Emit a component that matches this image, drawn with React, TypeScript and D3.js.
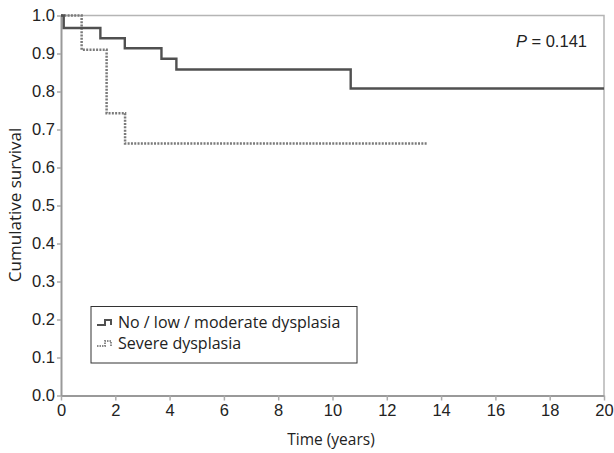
import { useRef, useEffect } from "react";
import * as d3 from "d3";

const W = 614;
const H = 453;
// plot area in pixels
const X0 = 61;
const X1 = 604;
const Y0 = 395.5;
const Y1 = 15.5;

// step curves: [time, survival] — value holds from time onward
const groupA: [number, number][] = [
  [0, 1.0],
  [0.1, 0.967],
  [1.45, 0.94],
  [2.35, 0.914],
  [3.7, 0.886],
  [4.25, 0.858],
  [10.67, 0.808],
  [20, 0.808],
];
const groupB: [number, number][] = [
  [0, 1.0],
  [0.76, 0.91],
  [1.68, 0.743],
  [2.36, 0.663],
  [13.47, 0.663],
];

const xTicks = [0, 2, 4, 6, 8, 10, 12, 14, 16, 18, 20];
const yTicks = [0, 0.1, 0.2, 0.3, 0.4, 0.5, 0.6, 0.7, 0.8, 0.9, 1.0];
const legendLabels = ["No / low / moderate dysplasia", "Severe dysplasia"];

const TICK_FONT = "'Liberation Sans', Arial, sans-serif";
const LABEL_FONT = "'Open Sans', 'Noto Sans', sans-serif";

export default function App() {
  const svgRef = useRef<SVGSVGElement>(null);

  useEffect(() => {
    if (!svgRef.current) return;
    const svg = d3.select(svgRef.current);
    svg.selectAll("*").remove();

    const x = d3.scaleLinear().domain([0, 20]).range([X0, X1]);
    const y = d3.scaleLinear().domain([0, 1]).range([Y0, Y1]);

    // frame top + right (light grey)
    svg
      .append("path")
      .attr("d", `M${X0},${Y1}H${X1}V${Y0}`)
      .attr("fill", "none")
      .attr("stroke", "#b5b5b5")
      .attr("stroke-width", 1.5);

    // x axis
    const xAxisG = svg
      .append("g")
      .attr("transform", `translate(0,${Y0})`)
      .call(d3.axisBottom(x).tickValues(xTicks).tickFormat(d3.format("d")).tickSizeInner(5).tickSizeOuter(0).tickPadding(4));
    xAxisG.select(".domain").attr("stroke", "#999").attr("stroke-width", 2);
    xAxisG.selectAll(".tick line").attr("stroke", "#aaa").attr("stroke-width", 1.5);
    xAxisG
      .selectAll("text")
      .attr("fill", "#222")
      .attr("font-size", "16.5px")
      .attr("font-family", TICK_FONT);

    // y axis
    const yAxisG = svg
      .append("g")
      .attr("transform", `translate(${X0},0)`)
      .call(d3.axisLeft(y).tickValues(yTicks).tickFormat(d3.format(".1f")).tickSizeInner(4).tickSizeOuter(0).tickPadding(2));
    yAxisG.select(".domain").attr("stroke", "#999").attr("stroke-width", 2);
    yAxisG.selectAll(".tick line").attr("stroke", "#aaa").attr("stroke-width", 1.5);
    yAxisG
      .selectAll("text")
      .attr("fill", "#222")
      .attr("font-size", "16.5px")
      .attr("font-family", TICK_FONT);

    const line = d3
      .line<[number, number]>()
      .x((d) => x(d[0]))
      .y((d) => y(d[1]))
      .curve(d3.curveStepAfter);

    // severe dysplasia (dotted)
    svg
      .append("path")
      .datum(groupB)
      .attr("d", line)
      .attr("fill", "none")
      .attr("stroke", "#7a7a7a")
      .attr("stroke-width", 2.5)
      .attr("stroke-dasharray", "2 1.3");

    // no/low/moderate (solid)
    svg
      .append("path")
      .datum(groupA)
      .attr("d", line)
      .attr("fill", "none")
      .attr("stroke", "#505050")
      .attr("stroke-width", 2.4);

    // P value
    const p = svg
      .append("text")
      .attr("x", 587)
      .attr("y", 47)
      .attr("text-anchor", "end")
      .attr("font-size", "16.5px")
      .attr("font-family", TICK_FONT)
      .attr("fill", "#222");
    p.append("tspan").attr("font-style", "italic").text("P");
    p.append("tspan").text(" = 0.141");

    // axis titles
    svg
      .append("text")
      .attr("x", 331)
      .attr("y", 445)
      .attr("text-anchor", "middle")
      .attr("font-size", "15.5px")
      .attr("font-family", LABEL_FONT)
      .attr("fill", "#222")
      .text("Time (years)");
    svg
      .append("text")
      .attr("transform", "rotate(-90)")
      .attr("x", -205)
      .attr("y", 21)
      .attr("text-anchor", "middle")
      .attr("font-size", "17px")
      .attr("font-family", LABEL_FONT)
      .attr("fill", "#222")
      .text("Cumulative survival");

    // legend
    const lg = svg.append("g");
    lg.append("rect")
      .attr("x", 91)
      .attr("y", 306.5)
      .attr("width", 266)
      .attr("height", 56.5)
      .attr("fill", "#fff")
      .attr("stroke", "#333")
      .attr("stroke-width", 1);
    legendLabels.forEach((label, i) => {
      const cy = 323 + i * 21;
      // tiny step glyph
      lg.append("path")
        .attr("d", `M97,${cy + 2}H105V${cy - 3}H111V${cy + 2}`)
        .attr("fill", "none")
        .attr("stroke", i === 0 ? "#505050" : "#8a8a8a")
        .attr("stroke-width", 2)
        .attr("stroke-dasharray", i === 0 ? null : "1.5 1");
      lg.append("text")
        .attr("x", 118)
        .attr("y", cy + 5)
        .attr("font-size", "16px")
        .attr("font-family", LABEL_FONT)
        .attr("fill", "#222")
        .text(label);
    });
  }, []);

  return (
    <svg
      ref={svgRef}
      width={W}
      height={H}
      style={{ position: "absolute", left: 0, top: 0, background: "#fff" }}
    />
  );
}
